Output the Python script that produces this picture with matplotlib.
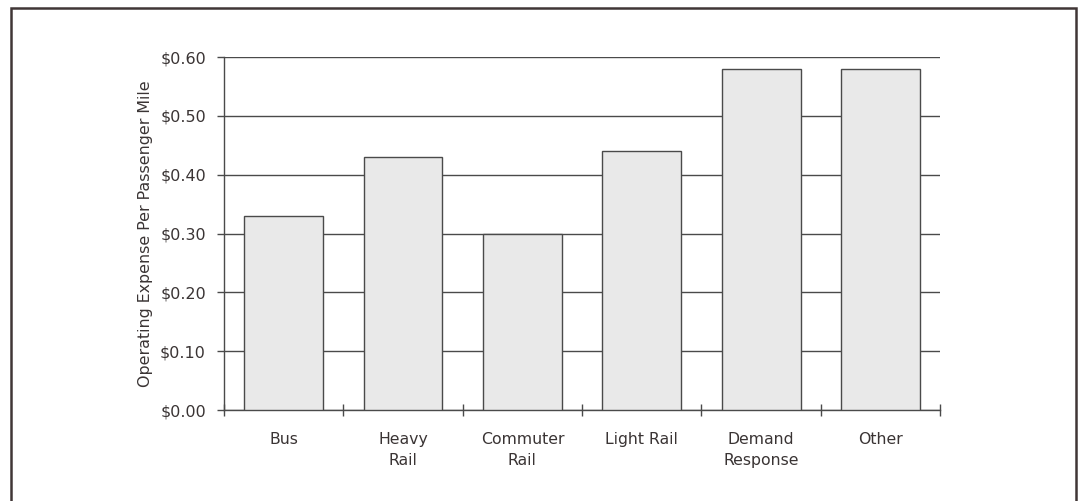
import numpy as np
import matplotlib.pyplot as plt
from matplotlib.patches import Rectangle

modes = ["Bus", "Heavy\nRail", "Commuter\nRail", "Light Rail", "Demand\nResponse", "Other"]
expense = [0.33, 0.43, 0.30, 0.44, 0.58, 0.58]
yticks = [0.0, 0.1, 0.2, 0.3, 0.4, 0.5, 0.6]

ink = "#3a3434"

plt.rcParams["font.family"] = "DejaVu Sans"

fig = plt.figure(figsize=(10.82, 5.01), dpi=100)
ax = fig.add_axes([0.207, 0.1816, 0.662, 0.7044])

x = np.arange(len(modes))
ax.bar(x, expense, width=0.66, color="#e9e9e9", edgecolor="#4a4a4a",
       linewidth=1.0, zorder=3)

ax.set_xlim(-0.5, len(modes) - 0.5)
ax.set_ylim(0, 0.6)
ax.set_yticks(yticks)
ax.set_yticklabels(["$%.2f" % v for v in yticks], fontsize=11.5, color=ink)
ax.yaxis.grid(True, color="#4a4a4a", linewidth=1.0, zorder=0)
ax.set_axisbelow(True)

# labels sit under the bar centres, the tick marks go between categories
ax.set_xticks(x)
ax.set_xticklabels(modes, fontsize=11.3, color=ink, linespacing=1.45, va="top")
ax.tick_params(axis="x", which="major", length=0, pad=16)
ax.set_xticks(np.arange(len(modes) + 1) - 0.5, minor=True)
ax.tick_params(axis="x", which="minor", direction="inout", length=8,
               width=1.0, color="#4a4a4a")
ax.tick_params(axis="y", length=5, width=1.0, color="#4a4a4a", pad=8)

for side in ["top", "right"]:
    ax.spines[side].set_visible(False)
for side in ["left", "bottom"]:
    ax.spines[side].set_color("#4a4a4a")
    ax.spines[side].set_linewidth(1.0)

ax.set_ylabel("Operating Expense Per Passenger Mile", fontsize=11.4, color=ink,
              labelpad=5)

# page frame around the chart
frame = Rectangle((11 / 1082, -0.2), (1076 - 11) / 1082, 1.2 - 8 / 501,
                  transform=fig.transFigure, fill=False, edgecolor="#403636",
                  linewidth=1.8)
fig.patches.append(frame)

fig.savefig("out.png", dpi=100)
